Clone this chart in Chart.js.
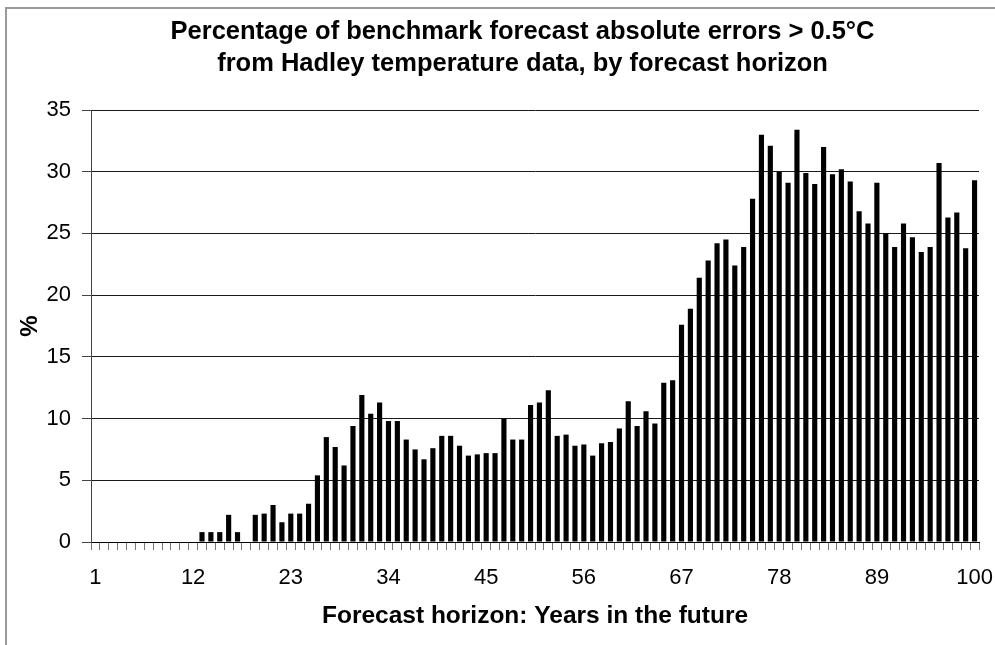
<!DOCTYPE html>
<html>
<head>
<meta charset="utf-8">
<script src="https://cdn.jsdelivr.net/npm/chart.js@4.4.1/dist/chart.umd.min.js"></script>
<style>
html, body { margin: 0; padding: 0; background: #fff; }
#frame { position: absolute; left: 5px; top: 7px; width: 990px; height: 638px; border-left: 2px solid #9a9a9a; border-top: 2px solid #9a9a9a; box-sizing: border-box; }
#wrap { position: absolute; left: 0; top: 0; width: 995px; height: 645px; }
</style>
</head>
<body>
<div id="frame"></div>
<div id="wrap"><canvas id="c" width="995" height="645"></canvas></div>
<script>
// Categories: forecast horizon in years
const horizons = ['1','2','3','4','5','6','7','8','9','10','11','12','13','14','15','16','17','18','19','20',
  '21','22','23','24','25','26','27','28','29','30','31','32','33','34','35','36','37','38','39','40',
  '41','42','43','44','45','46','47','48','49','50','51','52','53','54','55','56','57','58','59','60',
  '61','62','63','64','65','66','67','68','69','70','71','72','73','74','75','76','77','78','79','80',
  '81','82','83','84','85','86','87','88','89','90','91','92','93','94','95','96','97','98','99','100'];

// Series: percentage of absolute errors > 0.5°C
const percentErrors = [
  0, 0, 0, 0, 0, 0, 0, 0, 0, 0, 0, 0,
  0.8, 0.8, 0.8, 2.2, 0.8, 0,
  2.2, 2.3, 3.0, 1.6, 2.3, 2.3, 3.1, 5.4, 8.5, 7.7,
  6.2, 9.4, 11.9, 10.4, 11.3, 9.8, 9.8, 8.3, 7.5, 6.7,
  7.6, 8.6, 8.6, 7.8, 7.0, 7.1, 7.2, 7.2, 10.0, 8.3,
  8.3, 11.1, 11.3, 12.3, 8.6, 8.7, 7.8, 7.9, 7.0, 8.0,
  8.1, 9.2, 11.4, 9.4, 10.6, 9.6, 12.9, 13.1, 17.6, 18.9,
  21.4, 22.8, 24.2, 24.5, 22.4, 23.9, 27.8, 33.0, 32.1, 30.0,
  29.1, 33.4, 29.9, 29.0, 32.0, 29.8, 30.2, 29.2, 26.8, 25.8,
  29.1, 25.0, 23.9, 25.8, 24.7, 23.5, 23.9, 30.7, 26.3, 26.7,
  23.8, 29.3
];

// Tick labels shown on the x axis
const xTickLabels = ['1','12','23','34','45','56','67','78','89','100'];
// Y axis ticks
const yTicks = [0, 5, 10, 15, 20, 25, 30, 35];

const titleLines = ['Percentage of benchmark forecast absolute errors > 0.5°C',
                    'from Hadley temperature data, by forecast horizon'];
const xTitle = 'Forecast horizon: Years in the future';
const yTitle = '%';

const FONT = "'Liberation Sans', Arial, Helvetica, sans-serif";
Chart.defaults.font.family = FONT;
Chart.defaults.color = '#000';

const titleShift = {
  id: 'titleShift',
  afterLayout(chart) {
    const t = chart.titleBlock;
    if (t) { t.left = 50; t.right = 995; }
  }
};

new Chart(document.getElementById('c'), {
  type: 'bar',
  data: {
    labels: horizons,
    datasets: [{
      data: percentErrors,
      backgroundColor: '#000',
      borderWidth: 0,
      barPercentage: 0.58,
      categoryPercentage: 1.0
    }]
  },
  options: {
    responsive: false,
    animation: false,
    devicePixelRatio: 1,
    layout: { padding: { left: 8, right: 16, top: 0, bottom: 0 } },
    plugins: {
      legend: { display: false },
      tooltip: { enabled: false },
      title: {
        display: true,
        text: titleLines,
        color: '#000',
        font: { family: FONT, size: 25.5, weight: 'bold', lineHeight: 1.255 },
        padding: { top: 16, bottom: 30 }
      }
    },
    scales: {
      x: {
        ticks: {
          autoSkip: false,
          maxRotation: 0,
          minRotation: 0,
          color: '#000',
          font: { size: 22 },
          padding: 15,
          callback(value) {
            const lab = this.getLabelForValue(value);
            return xTickLabels.includes(lab) ? lab : '';
          }
        },
        grid: {
          offset: true,
          drawOnChartArea: false,
          drawTicks: true,
          tickLength: 8,
          tickColor: '#777'
        },
        border: { color: '#000', width: 1 },
        title: {
          display: true,
          text: xTitle,
          color: '#000',
          font: { size: 24.5, weight: 'bold' },
          padding: { top: 0, bottom: 14 }
        },
        afterFit(s) { s.height = 103; s.paddingLeft = 0; s.paddingRight = 0; }
      },
      y: {
        min: 0,
        max: 35,
        afterBuildTicks(s) { s.ticks = yTicks.map(v => ({ value: v })); },
        ticks: {
          color: '#000',
          font: { size: 22 },
          padding: 11
        },
        grid: {
          color: '#1a1a1a',
          lineWidth: 1,
          tickLength: 9,
          tickColor: '#444'
        },
        border: { color: '#444', width: 1 },
        title: {
          display: true,
          text: yTitle,
          color: '#000',
          font: { size: 24, weight: 'bold' },
          padding: { top: 8, bottom: 0 }
        },
        afterFit(s) { s.width = 83; }
      }
    }
  },
  plugins: [titleShift]
});
</script>
</body>
</html>
